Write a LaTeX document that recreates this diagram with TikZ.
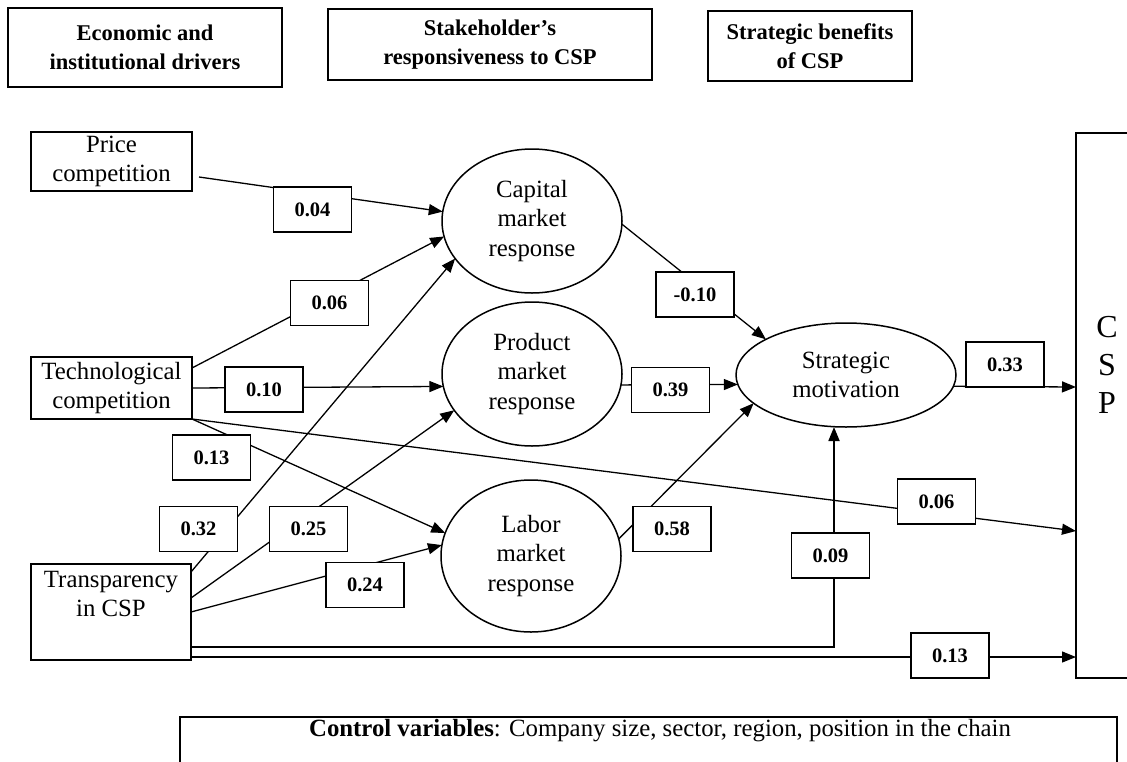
\documentclass[tikz,border=0pt]{standalone}
\usepackage{fontspec}
\setmainfont{Liberation Serif}
\usetikzlibrary{arrows.meta,shapes.geometric}
\begin{document}
\begin{tikzpicture}[x=1pt,y=-1pt,
  body/.style={font=\fontsize{24.8pt}{29.5pt}\selectfont},
  box/.style={draw, line width=1.5pt, inner sep=0pt, outer sep=0pt},
  head/.style={box, align=center, font=\fontsize{22.5pt}{29pt}\selectfont\bfseries},
  var/.style={box, body, align=center},
  latent/.style={ellipse, draw, line width=1.5pt, inner sep=0pt, outer sep=0pt, body, align=center, minimum width=180pt},
  coef/.style={draw, fill=white, line width=1.5pt, inner sep=0pt, minimum width=78pt, minimum height=45pt, font=\fontsize{20.5pt}{24pt}\selectfont\bfseries},
  link/.style={line width=1.3pt, -{Triangle[length=14pt,width=11pt]}}
]
\clip (0,0) rectangle (1127,761);

% column headings
\node[head, minimum width=274pt, minimum height=79pt] (h1) at (145,47.5) {Economic and\\institutional drivers};
\node[head, minimum width=324pt, minimum height=71pt] (h2) at (490,44.5) {Stakeholder’s\\responsiveness to CSP};
\node[head, minimum width=204pt, minimum height=70pt] (h3) at (810,46) {Strategic benefits\\of CSP};

% drivers
\node[var, minimum width=161pt, minimum height=59pt] (price) at (111.5,161.5) {Price\\competition};
\node[var, minimum width=161pt, minimum height=62pt] (tech) at (111.5,388) {Technological\\competition};
\node[box, minimum width=160pt, minimum height=96pt] (transp) at (111,612) {};
\node[body, align=center] (transptext) at (111,594) {Transparency\\in CSP};

% stakeholder responses and motivation
\node[latent, minimum height=144pt] (capital) at (532,221) {Capital\\market\\response};
\node[latent, minimum height=144pt] (product) at (532,374) {Product\\market\\response};
\node[latent, minimum height=152pt] (labor) at (531,556) {Labor\\market\\response};
\node[latent, minimum width=220pt, minimum height=104pt] (strat) at (846,375) {Strategic\\motivation};

% outcome
\node[box, minimum width=62pt, minimum height=545pt] (csp) at (1107,405.5) {};
\node[font=\fontsize{32pt}{38pt}\selectfont, align=center] (csptext) at (1107,365) {C\\S\\P};

% controls
\node[box, minimum width=937pt, minimum height=60pt] (ctrl) at (648.5,747) {};
\node[body] (ctrltext) at (660,731) {\textbf{Control variables}: Company size, sector, region, position in the chain};

% paths
\draw[link] ([shift={(7pt,-15.5pt)}]price.east) -- (capital.174);
\draw[link] ([yshift=-11pt]tech.north east) -- (capital.190);
\draw[link] (tech.east) -- (product.188);
\draw[link] (tech.south east) -- (labor.165);
\draw[link] (tech.south east) -- ([yshift=-125.5pt]csp.west);
\draw[link] ([yshift=-8pt]transp.north east) -- (capital.206);
\draw[link] ([yshift=-34pt]transp.north east) -- (product.205);
\draw[link] (transp.east) -- (labor.173);
\draw[link, line width=1.8pt] ([yshift=13pt]transp.south east) -| ([xshift=-12pt]strat.south);
\draw[link] ([yshift=3pt]transp.south east) -- ([yshift=3pt]transp.south east -| csp.west);
\draw[link] (capital.-2.5) -- (strat.156.6);
\draw[link] (product.-7.05) -- (strat.185.3);
\draw[link] (labor.11.8) -- (strat.197.1);
\draw[link] (strat.-6.4) -- ([yshift=18.5pt]csp.west);

% path coefficients
\node[coef] (c1) at (312.5,209.5) {0.04};
\node[coef] (c2) at (329.5,303) {0.06};
\node[coef] (c3) at (264,389.5) {0.10};
\node[coef] (c4) at (211.5,457.5) {0.13};
\node[coef] (c5) at (198.5,529) {0.32};
\node[coef] (c6) at (308.5,529) {0.25};
\node[coef] (c7) at (365,585) {0.24};
\node[coef] (c8) at (695,294.5) {-0.10};
\node[coef] (c9) at (670.5,390) {0.39};
\node[coef] (c10) at (672,529) {0.58};
\node[coef] (c11) at (1005,364.5) {0.33};
\node[coef] (c12) at (936.5,501.5) {0.06};
\node[coef] (c13) at (830.5,555.5) {0.09};
\node[coef] (c14) at (950,655.5) {0.13};
\end{tikzpicture}
\end{document}
